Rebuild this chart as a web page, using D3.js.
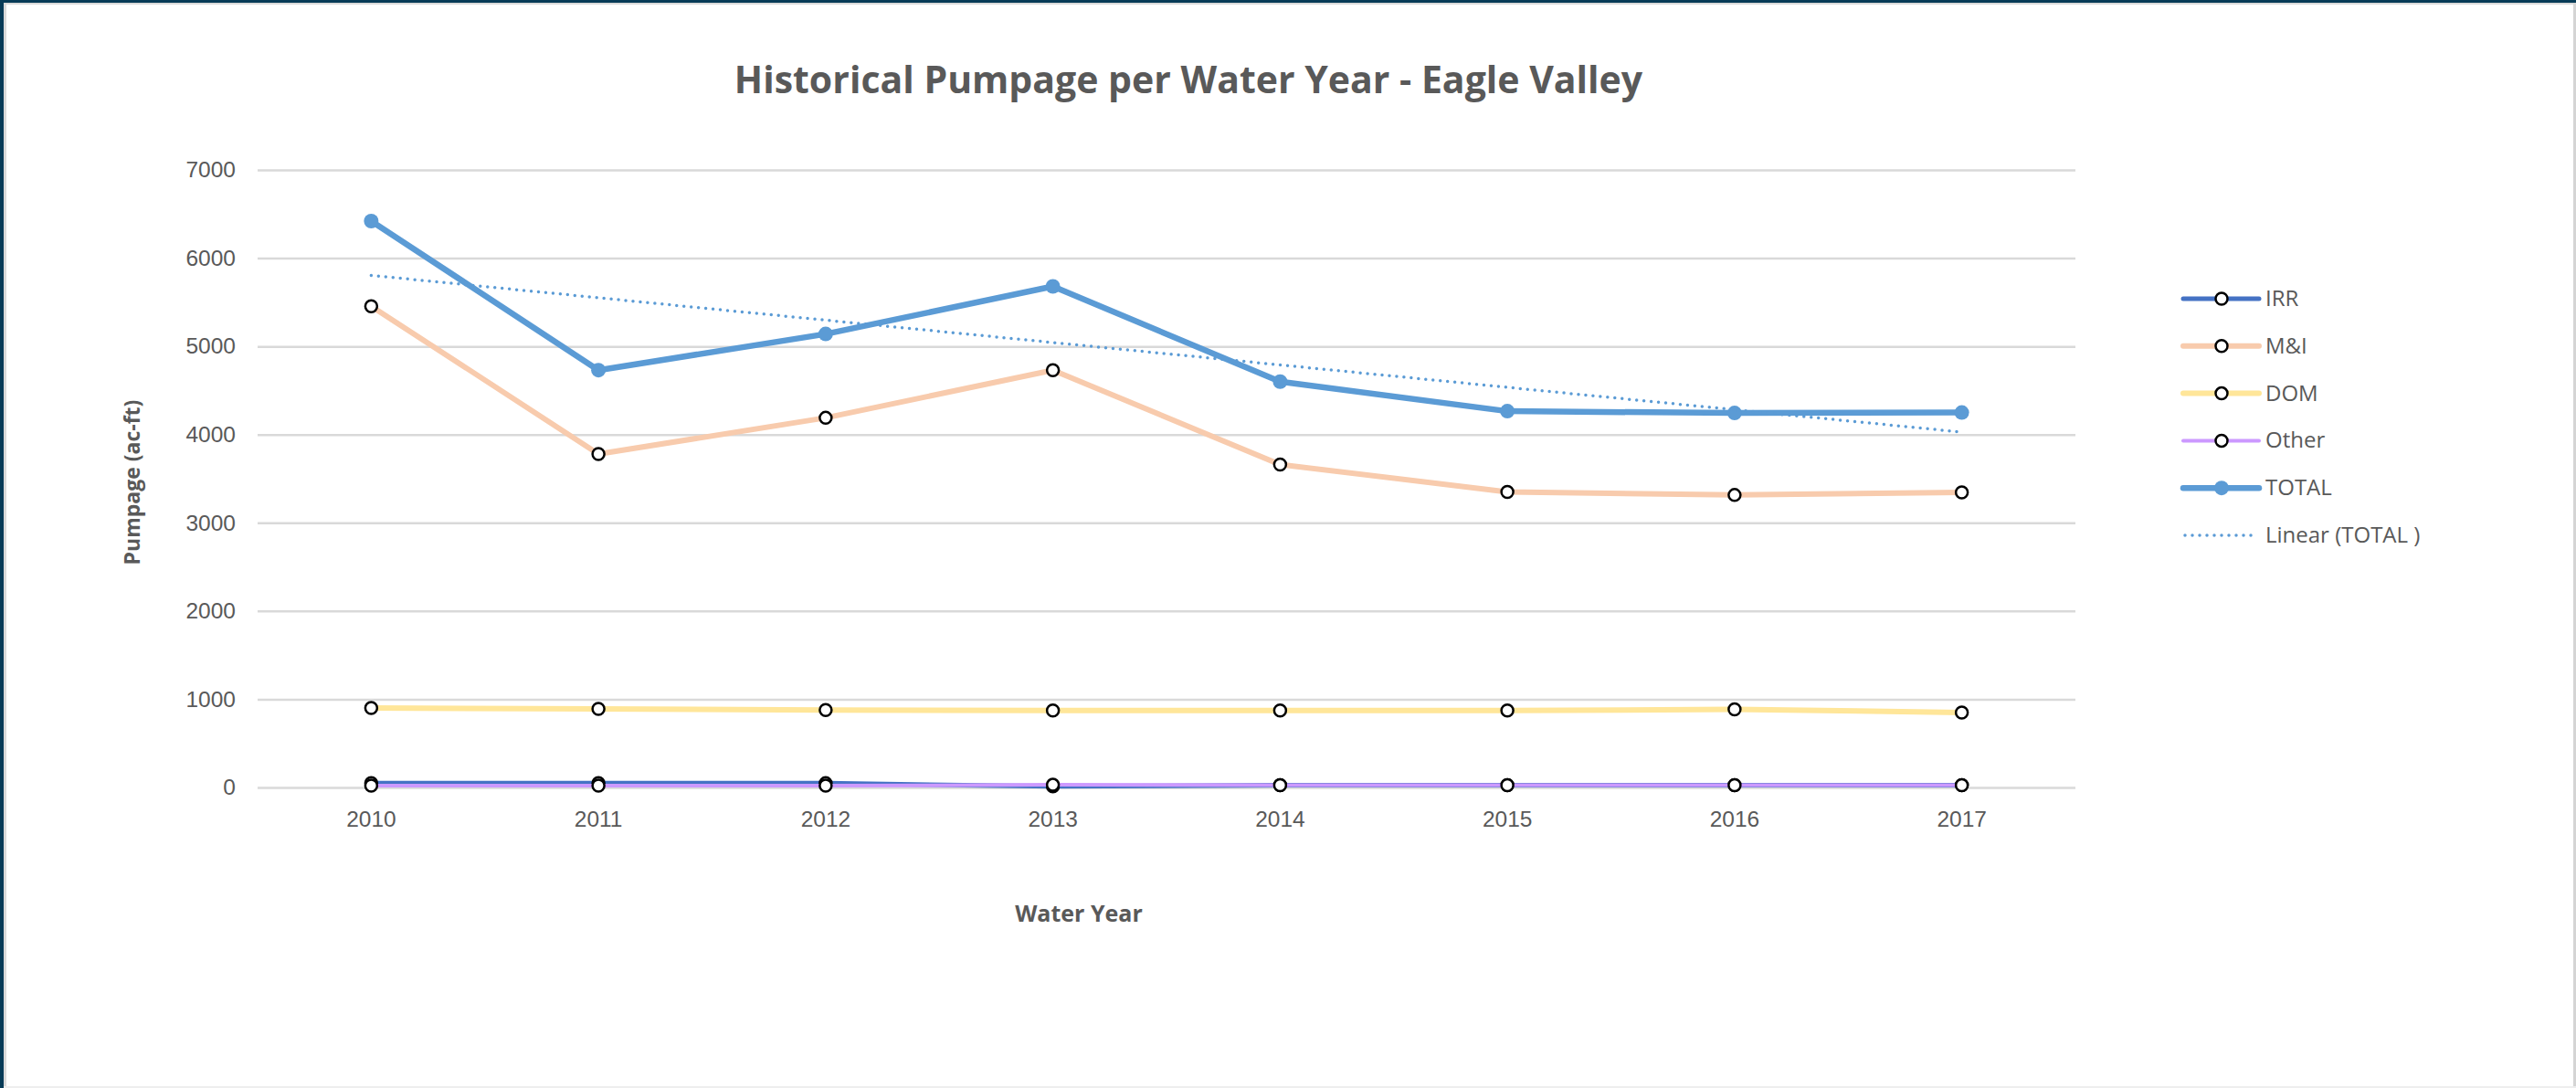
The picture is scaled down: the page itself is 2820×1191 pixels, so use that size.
<!DOCTYPE html>
<html>
<head>
<meta charset="utf-8">
<script src="https://cdn.jsdelivr.net/npm/d3@7"></script>
<style>
  html, body { margin: 0; padding: 0; background: #fff; }
  .tick text { font-family: "Liberation Sans", Arial, sans-serif; font-size: 24.5px; fill: #595959; }
  .axisTitle { font-family: "Open Sans", sans-serif; font-weight: bold; fill: #595959; }
  .legendText { font-family: "Open Sans", sans-serif; font-size: 24px; fill: #595959; }
</style>
</head>
<body>
<div id="chart"></div>
<script>

// water years on the x axis
const years = [2010, 2011, 2012, 2013, 2014, 2015, 2016, 2017];

// pumpage per use, ac-ft
const irr   = [50, 50, 48, 12, 25, 25, 25, 25];
const mi    = [5455, 3780, 4190, 4730, 3660, 3350, 3315, 3345];
const dom   = [900, 890, 878, 872, 872, 872, 885, 850];
const other = [20, 20, 20, 30, 25, 25, 25, 25];
const total = [6420, 4730, 5140, 5680, 4600, 4265, 4245, 4250];

const yTicks = [0, 1000, 2000, 3000, 4000, 5000, 6000, 7000];

const seriesList = [
    { name: 'IRR',   values: irr,   color: '#4472c4', width: 5,   marker: 'open' },
    { name: 'M&I',   values: mi,    color: '#f8cbad', width: 6,   marker: 'open' },
    { name: 'DOM',   values: dom,   color: '#ffe699', width: 6,   marker: 'open' },
    { name: 'Other', values: other, color: '#cc99ff', width: 4,   marker: 'open' },
    { name: 'TOTAL', values: total, color: '#5b9bd5', width: 6.5, marker: 'filled' }
];

const W = 2820, H = 1191;
const plot = { left: 282, right: 2272, top: 186, bottom: 862 };

let svg = d3.select('#chart').append('svg')
    .attr('width', W)
    .attr('height', H);

// frame around the picture
svg.append('rect').attr('x', 0).attr('y', 0).attr('width', W).attr('height', H).style('fill', '#fff');
svg.append('rect').attr('x', 0).attr('y', 0).attr('width', W).attr('height', 3).style('fill', '#073b57');
svg.append('rect').attr('x', 0).attr('y', 0).attr('width', 4).attr('height', H).style('fill', '#073b57');
svg.append('rect').attr('x', 4).attr('y', 3).attr('width', W - 4).attr('height', 2).style('fill', '#d9d9d9');
svg.append('rect').attr('x', 4).attr('y', 3).attr('width', 3).attr('height', H).style('fill', '#d9d9d9');
svg.append('rect').attr('x', W - 3).attr('y', 3).attr('width', 3).attr('height', H).style('fill', '#d4d4d4');
svg.append('rect').attr('x', 4).attr('y', H - 2).attr('width', W).attr('height', 2).style('fill', '#eeeeee');

let x = d3.scaleBand().domain(years).range([plot.left, plot.right]);
let y = d3.scaleLinear().domain([0, 7000]).range([plot.bottom, plot.top]);
let xc = d => x(d) + x.bandwidth() / 2;

// gridlines + y labels
let yAxis = svg.append('g')
    .attr('transform', 'translate(' + plot.left + ',0)')
    .call(d3.axisLeft(y).tickValues(yTicks).tickSize(-(plot.right - plot.left)).tickPadding(24).tickFormat(d3.format('d')));
yAxis.select('.domain').remove();
yAxis.selectAll('.tick line').style('stroke', '#d9d9d9').style('stroke-width', 2.5);

// x labels
let xAxis = svg.append('g')
    .attr('transform', 'translate(0,' + plot.bottom + ')')
    .call(d3.axisBottom(x).tickSize(0).tickPadding(26));
xAxis.select('.domain').remove();

// title
svg.append('text')
    .attr('class', 'axisTitle')
    .attr('x', 1301).attr('y', 102)
    .attr('text-anchor', 'middle')
    .style('font-size', '41px')
    .text('Historical Pumpage per Water Year - Eagle Valley');

svg.append('text')
    .attr('class', 'axisTitle')
    .attr('transform', 'translate(153,' + ((plot.top + plot.bottom) / 2 + 4) + ') rotate(-90)')
    .attr('text-anchor', 'middle')
    .style('font-size', '23px')
    .text('Pumpage (ac-ft)');

svg.append('text')
    .attr('class', 'axisTitle')
    .attr('x', 1181).attr('y', 1009)
    .attr('text-anchor', 'middle')
    .style('font-size', '25px')
    .text('Water Year');

let line = d3.line()
    .x((d, i) => xc(years[i]))
    .y(d => y(d));

seriesList.forEach(s => {
    let g = svg.append('g');
    g.append('path')
        .attr('d', line(s.values))
        .style('fill', 'none')
        .style('stroke', s.color)
        .style('stroke-width', s.width)
        .style('stroke-linejoin', 'round')
        .style('stroke-linecap', 'round');

    g.selectAll('circle')
        .data(s.values)
        .join('circle')
        .attr('cx', (d, i) => xc(years[i]))
        .attr('cy', d => y(d))
        .attr('r', s.marker == 'filled' ? 8 : 6.5)
        .style('fill', s.marker == 'filled' ? s.color : '#fff')
        .style('stroke', s.marker == 'filled' ? 'none' : '#000')
        .style('stroke-width', 2.5);
});

// linear trendline for TOTAL (least squares over the 8 points, like excel does)
let idx = years.map((d, i) => i + 1);
let mx = d3.mean(idx), my = d3.mean(total);
let slope = d3.sum(idx, (d, i) => (d - mx) * (total[i] - my)) / d3.sum(idx, d => (d - mx) * (d - mx));
let icpt = my - slope * mx;

svg.append('line')
    .attr('x1', xc(years[0]))
    .attr('x2', xc(years[years.length - 1]))
    .attr('y1', y(icpt + slope * idx[0]))
    .attr('y2', y(icpt + slope * idx[idx.length - 1]))
    .style('stroke', '#5b9bd5')
    .style('stroke-width', 3.5)
    .style('stroke-linecap', 'round')
    .style('stroke-dasharray', '0 8');

// legend
let legend = svg.append('g').attr('transform', 'translate(2390,327)');
let rowH = 51.8;

seriesList.forEach((s, i) => {
    let row = legend.append('g').attr('transform', 'translate(0,' + (i * rowH) + ')');
    row.append('line')
        .attr('x1', 0).attr('x2', 83)
        .style('stroke', s.color)
        .style('stroke-width', s.width)
        .style('stroke-linecap', 'round');
    row.append('circle')
        .attr('cx', 42).attr('cy', 0)
        .attr('r', s.marker == 'filled' ? 8 : 6.5)
        .style('fill', s.marker == 'filled' ? s.color : '#fff')
        .style('stroke', s.marker == 'filled' ? 'none' : '#000')
        .style('stroke-width', 2.5);
    row.append('text')
        .attr('class', 'legendText')
        .attr('x', 90).attr('y', 8)
        .text(s.name);
});

let trendRow = legend.append('g').attr('transform', 'translate(0,' + (seriesList.length * rowH) + ')');
trendRow.append('line')
    .attr('x1', 2).attr('x2', 76)
    .style('stroke', '#5b9bd5')
    .style('stroke-width', 3.5)
    .style('stroke-linecap', 'round')
    .style('stroke-dasharray', '0 8');
trendRow.append('text')
    .attr('class', 'legendText')
    .attr('x', 90).attr('y', 8)
    .text('Linear (TOTAL )');

</script>
</body>
</html>
